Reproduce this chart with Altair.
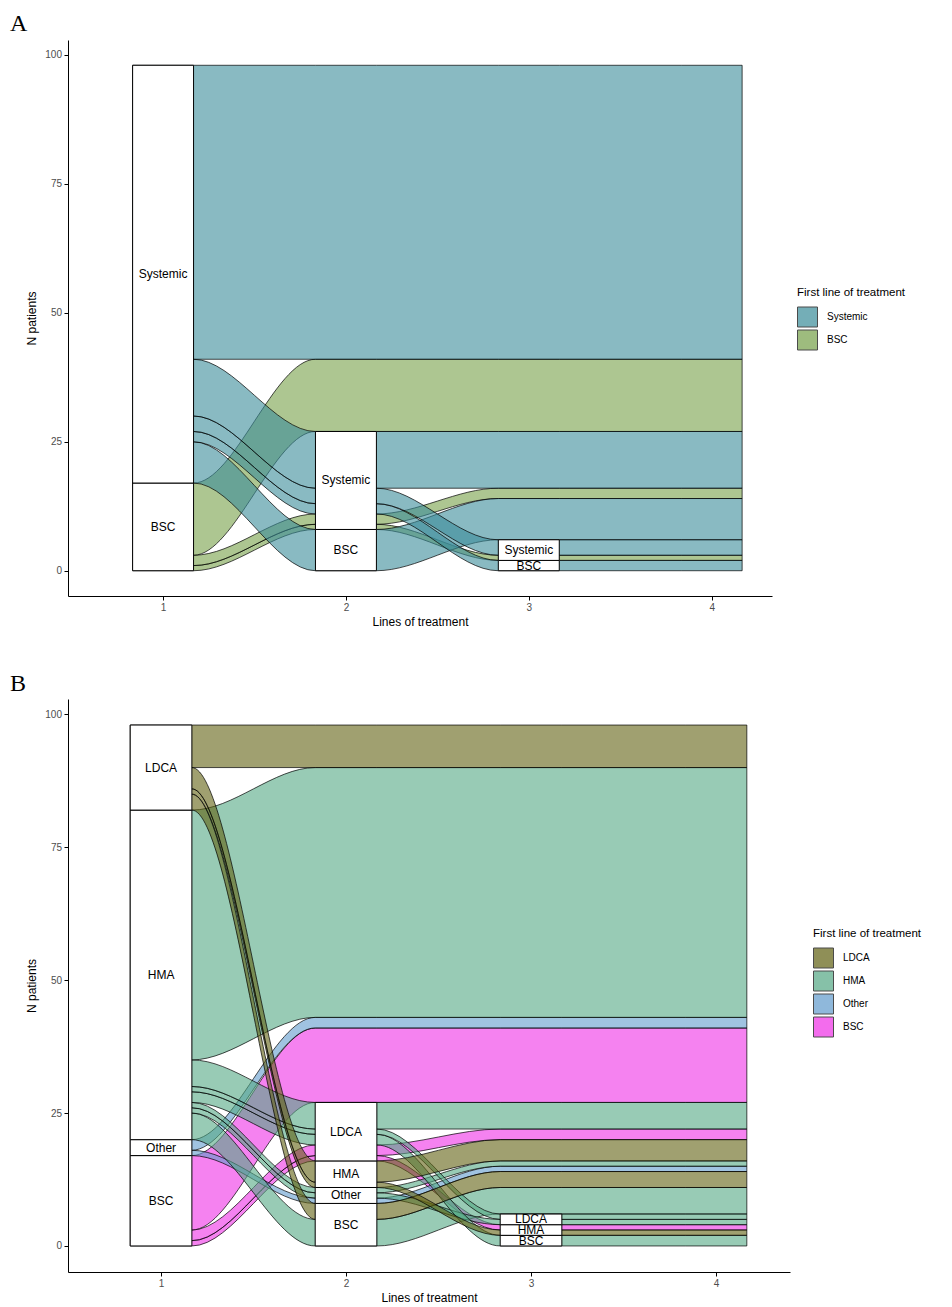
import altair as alt
import pandas as pd

STRATUM_WIDTH = 1 / 3
AXES = [1, 2, 3, 4]
Y_TICKS = [0, 25, 50, 75, 100]

# ---------------- Panel A: first line Systemic vs BSC ----------------
a_strata = ["BSC", "Systemic"]            # stacking order bottom -> top (no further line on top, not drawn)
a_legend = ["Systemic", "BSC"]
a_colors = ["#3a8c99", "#76a048"]
a_line1 = ["BSC", "BSC", "BSC", "Systemic", "Systemic", "Systemic", "Systemic", "Systemic"]
a_line2 = ["Systemic", "Systemic", None, "BSC", "Systemic", "Systemic", "Systemic", None]
a_line3 = ["Systemic", None, None, None, "BSC", "Systemic", None, None]
a_line4 = [None] * 8
a_count = [1, 2, 14, 8, 2, 3, 11, 57]

# ---------------- Panel B: LDCA / HMA / Other / BSC ----------------
b_strata = ["BSC", "Other", "HMA", "LDCA"]
b_legend = ["LDCA", "HMA", "Other", "BSC"]
b_colors = ["#616111", "#53a884", "#619bcd", "#ee2fe6"]
b_line1 = ["BSC", "BSC", "BSC", "Other", "Other", "HMA", "HMA", "HMA",
           "HMA", "HMA", "HMA", "HMA", "LDCA", "LDCA", "LDCA", "LDCA"]
b_line2 = ["LDCA", "LDCA", None, "Other", None, "BSC", "Other", "Other",
           "LDCA", "LDCA", "LDCA", None, "BSC", "HMA", "HMA", None]
b_line3 = ["HMA", None, None, None, None, None, "LDCA", None,
           "BSC", "LDCA", None, None, None, "HMA", None, None]
b_line4 = [None] * 16
b_count = [1, 2, 14, 1, 2, 5, 1, 1, 2, 1, 5, 47, 3, 1, 4, 8]


def alluvial_tables(lines, counts, strata):
    n = len(counts)
    none_rank = len(strata)

    def rk(s):
        return strata.index(s) if s is not None else none_rank

    seqs = list(zip(*lines))
    positions = []
    prev = None
    for k in range(len(lines)):
        if k == 0:
            order = sorted(range(n), key=lambda i: tuple(rk(s) for s in seqs[i]) + (i,))
        else:
            order = sorted(range(n), key=lambda i: (rk(seqs[i][k]), prev[i][0], i))
        cur = [None] * n
        y = 0
        for i in order:
            cur[i] = (y, y + counts[i])
            y += counts[i]
        positions.append(cur)
        prev = cur

    flow_rows = []
    for i in range(n):
        for k, ax in enumerate(AXES):
            lo, hi = positions[k][i]
            for xx in (ax - STRATUM_WIDTH / 2, ax + STRATUM_WIDTH / 2):
                flow_rows.append({"id": i, "group": lines[0][i], "x": xx, "lo": lo, "hi": hi})

    box_rows = []
    for k, ax in enumerate(AXES):
        for s in strata:
            members = [i for i in range(n) if seqs[i][k] == s]
            if not members:
                continue
            lo = min(positions[k][i][0] for i in members)
            hi = max(positions[k][i][1] for i in members)
            box_rows.append({"stratum": s, "x1": ax - STRATUM_WIDTH / 2, "x2": ax + STRATUM_WIDTH / 2,
                             "xc": ax, "lo": lo, "hi": hi, "mid": (lo + hi) / 2})
    return pd.DataFrame(flow_rows), pd.DataFrame(box_rows)


def panel(lines, counts, strata, legend_order, colors, xdom, width, height,
          letter, dx, offset, lx, ly):
    flows, boxes = alluvial_tables(lines, counts, strata)
    xscale = alt.Scale(domain=xdom, nice=False, zero=False)
    yscale = alt.Scale(domain=[-4.9, 102.9], nice=False, zero=False)
    xaxis = alt.Axis(values=AXES, format="d", title="Lines of treatment", titlePadding=4)
    yaxis = alt.Axis(values=Y_TICKS, title="N patients", titlePadding=6)

    area = alt.Chart(flows).mark_area(
        interpolate="monotone", fillOpacity=0.6, stroke="black",
        strokeOpacity=0.7, strokeWidth=1
    ).encode(
        x=alt.X("x:Q", scale=xscale, axis=xaxis),
        y=alt.Y("hi:Q", scale=yscale, axis=yaxis),
        y2="lo:Q",
        color=alt.Color(
            "group:N",
            scale=alt.Scale(domain=legend_order, range=colors),
            legend=alt.Legend(
                title="First line of treatment", orient="none", legendX=lx, legendY=ly,
                symbolType="square", symbolSize=400, symbolStrokeColor="black",
                symbolStrokeWidth=1, symbolOpacity=0.7, rowPadding=-4,
                titlePadding=8, labelOffset=9,
            ),
        ),
        detail="id:N",
    )
    rect = alt.Chart(boxes).mark_rect(fill="white", stroke="black", strokeWidth=1).encode(
        x=alt.X("x1:Q", scale=xscale, axis=xaxis),
        x2="x2:Q",
        y=alt.Y("lo:Q", scale=yscale, axis=yaxis),
        y2="hi:Q",
    )
    text = alt.Chart(boxes).mark_text(fontSize=12, font="Liberation Sans", color="black").encode(
        x=alt.X("xc:Q", scale=xscale, axis=xaxis),
        y=alt.Y("mid:Q", scale=yscale, axis=yaxis),
        text="stratum:N",
    )
    return alt.layer(area, rect, text).properties(
        width=width, height=height,
        title=alt.TitleParams(letter, anchor="start", frame="group", dx=dx, offset=offset,
                              font="Liberation Serif", fontSize=24, fontWeight="normal",
                              baseline="alphabetic", color="black"),
    )


pa = panel([a_line1, a_line2, a_line3, a_line4], a_count, a_strata, a_legend, a_colors,
           [0.48, 4.33], 704, 556, "A", -58, -15, 729, 247)
pb = panel([b_line1, b_line2, b_line3, b_line4], b_count, b_strata, b_legend, b_colors,
           [0.497, 4.40], 722, 573, "B", -58, -16, 745, 229)

chart = alt.vconcat(pa, pb, spacing=44).resolve_scale(
    color="independent", x="independent", y="independent"
).properties(
    padding={"left": 2, "top": 4, "right": 2, "bottom": 2}
).configure_view(stroke=None).configure_axis(
    grid=False, domainColor="black", domainWidth=1, tickColor="black", tickWidth=1,
    tickSize=4, labelColor="#4d4d4d", labelFontSize=10, labelFont="Liberation Sans",
    titleFont="Liberation Sans", titleFontSize=12, titleFontWeight="normal",
    titleColor="black", labelPadding=2.5,
).configure_legend(
    titleFont="Liberation Sans", titleFontSize=11.5, titleFontWeight="normal",
    titleColor="black", labelFont="Liberation Sans", labelFontSize=10, labelColor="black",
)

chart.save("out.html", embed_options={"renderer": "svg", "actions": False})
